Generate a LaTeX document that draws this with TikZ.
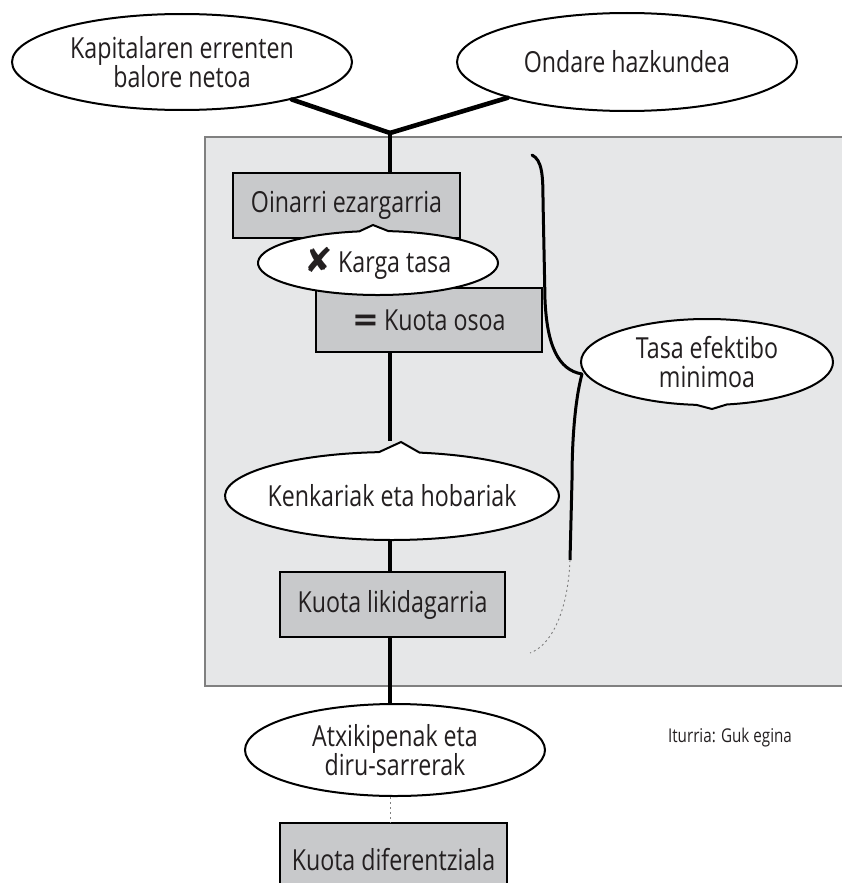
\documentclass[tikz,border=0pt]{standalone}
\usepackage{fontspec}
\setmainfont{Open Sans}[FakeStretch=0.8]
\newfontfamily\symfont{DejaVu Sans}
\usetikzlibrary{shapes.geometric,shapes.callouts}
\definecolor{bggray}{HTML}{E6E7E8}
\definecolor{bgedge}{HTML}{808080}
\definecolor{boxgray}{HTML}{C8C9CB}
\definecolor{txt}{HTML}{231F20}
\newcommand{\mainsz}{\fontsize{29}{29}\selectfont}
\begin{document}
\begin{tikzpicture}[x=1pt,y=-1pt,
  bubble/.style={ellipse, draw=black, line width=2pt, fill=white, inner sep=-30pt,
    align=center, font=\mainsz, text=txt},
  callb/.style={ellipse callout, draw=black, line width=2pt, fill=white, inner sep=-30pt,
    align=center, font=\mainsz, text=txt, callout pointer arc=14},
  gbox/.style={rectangle, draw=black, line width=1.7pt, fill=boxgray, inner sep=0pt,
    align=center, font=\mainsz, text=txt},
  flow/.style={line width=3.6pt, black},
  thick flow/.style={line width=4.6pt, black, line cap=round},
  faint/.style={line width=0.9pt, black!50, dash pattern=on 2pt off 3pt}]
\useasboundingbox (0,0) rectangle (841,883);
% background panel
\fill[bggray] (205,137) rectangle (860,686);
\draw[bgedge, line width=2pt] (860,137) -- (205,137) -- (205,686) -- (860,686);

% nodes
\node[bubble, minimum width=340pt, minimum height=96pt] (kap) at (182,62)
  {Kapitalaren errenten\\balore netoa};
\node[bubble, minimum width=340pt, minimum height=98pt] (ond) at (627,62) {Ondare hazkundea};
\coordinate (J) at (390,133);
\node[gbox, minimum width=227pt, minimum height=65pt] (oin) at (346.5,205.5) {Oinarri ezargarria};
\node[gbox, minimum width=226pt, minimum height=64pt] (osoa) at (429,320)
  {{\symfont\bfseries\fontsize{32}{30}\selectfont =}\,Kuota osoa};
\node[callb, minimum width=240pt, minimum height=64pt,
  callout absolute pointer={(373,225)}] (karga) at (378,263)
  {{\symfont\fontsize{34}{30}\selectfont ✘}\,Karga tasa};
\node[callb, minimum width=252pt, minimum height=86pt,
  callout absolute pointer={(712,409)}] (tasa) at (707,362)
  {Tasa efektibo\\minimoa};
\node[callb, minimum width=334pt, minimum height=88pt,
  callout absolute pointer={(401,442)}] (ken) at (392,496) {Kenkariak eta hobariak};
\node[gbox, minimum width=225pt, minimum height=65pt] (lik) at (392.5,604.5) {Kuota likidagarria};
\node[bubble, minimum width=300pt, minimum height=92pt] (atx) at (395,750)
  {Atxikipenak eta\\diru-sarrerak};
\node[gbox, minimum width=227pt, minimum height=80pt, text depth=0pt] (dif) at (393.5,863)
  {\raisebox{8pt}{Kuota diferentziala}};
\node[font=\fontsize{19}{20}\selectfont, text=txt] (src) at (730,738) {Iturria: Guk egina};

% connectors
\draw[thick flow] (kap) -- (J);
\draw[thick flow] (ond) -- (J);
\draw[flow] (J) -- (J |- oin.north);
\draw[flow] (J |- osoa.south) -- (J |- ken.pointer);
\draw[flow] (J |- ken.south) -- (J |- lik.north);
\draw[flow] (J |- lik.south) -- (J |- atx.north);
\draw[faint] (J |- atx.south) -- (J |- dif.north);

% bracket towards "Tasa efektibo minimoa"
\coordinate (bt) at (532,155);
\coordinate (bj) at (582,374);
\coordinate (bb) at (530,653);
\draw[line width=3pt, line cap=round] (bt) .. controls (542,160) and (543,175) .. (543,200)
  -- (545,300) .. controls (547,345) and (558,370) .. (bj);
\draw[line width=3pt] (bj) .. controls (575,400) and (572,440) .. (572,480) -- (570,560);
\draw[faint] (570,560) .. controls (568,610) and (552,645) .. (bb);
\end{tikzpicture}
\end{document}
